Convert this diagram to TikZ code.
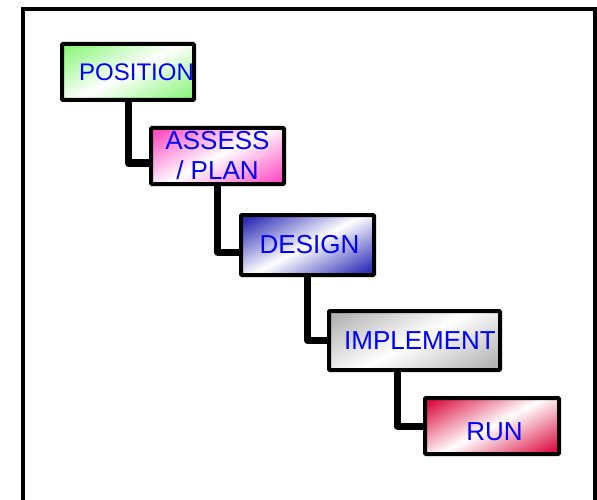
\documentclass[tikz,border=0pt]{standalone}
\usepackage{fontspec}
\setmainfont{Liberation Sans}
\definecolor{cgreen}{HTML}{8EF57E}
\definecolor{cpink}{HTML}{FF4FC4}
\definecolor{cblue}{HTML}{2E2EB8}
\definecolor{cgray}{HTML}{B4B4B4}
\definecolor{cred}{HTML}{DC1445}
\colorlet{stagec}{cgreen}
\colorlet{stagel}{cgreen!40!white}
\pgfdeclareverticalshading[stagec,stagel]{stageshade}{100bp}{color(0bp)=(stagec); color(20bp)=(stagec); color(38bp)=(stagel); color(50bp)=(white); color(62bp)=(stagel); color(80bp)=(stagec); color(100bp)=(stagec)}
\begin{document}
\begin{tikzpicture}[x=1pt,y=-1pt,
  stage/.style={draw=black, line width=4pt, rectangle, rounded corners=1pt,
    inner sep=0pt, text=blue, align=center,
    font=\fontsize{26}{30}\selectfont,
    /utils/exec={\colorlet{stagec}{#1}\colorlet{stagel}{#1!40!white}},
    shade, shading=stageshade, shading angle=28},
  conn/.style={line width=7pt, line cap=round, line join=round, draw=black},
  frame/.style={line width=4pt, draw=black}]
\useasboundingbox (0,0) rectangle (597,500);
\draw[frame] (23,500) -- (23,9) -- (595,9) -- (595,500);

\node[stage=cgreen, minimum width=132pt, minimum height=56pt, font=\fontsize{24}{30}\selectfont] (position) at (128,72) {\hspace*{17pt}POSITION};
\node[stage=cpink, minimum width=133pt, minimum height=56pt] (assess) at (217.5,156) {ASSESS\\/ PLAN};
\node[stage=cblue, minimum width=133pt, minimum height=60pt] (design) at (307.5,245) {\hspace*{4pt}DESIGN};
\node[stage=cgray, minimum width=171pt, minimum height=59pt] (implement) at (414.5,340.5) {\hspace*{11pt}IMPLEMENT};
\node[stage=cred, minimum width=134pt, minimum height=56pt, text height=29pt, text depth=0pt] (run) at (492,426) {\hspace*{5pt}RUN};

\draw[conn] (position.south) |- ([yshift=-7pt]assess.west);
\draw[conn] (assess.south) |- ([yshift=-7pt]design.west);
\draw[conn] (design.south) |- (implement.west);
\draw[conn] ([xshift=-17.5pt]implement.south) |- (run.west);
\end{tikzpicture}
\end{document}
